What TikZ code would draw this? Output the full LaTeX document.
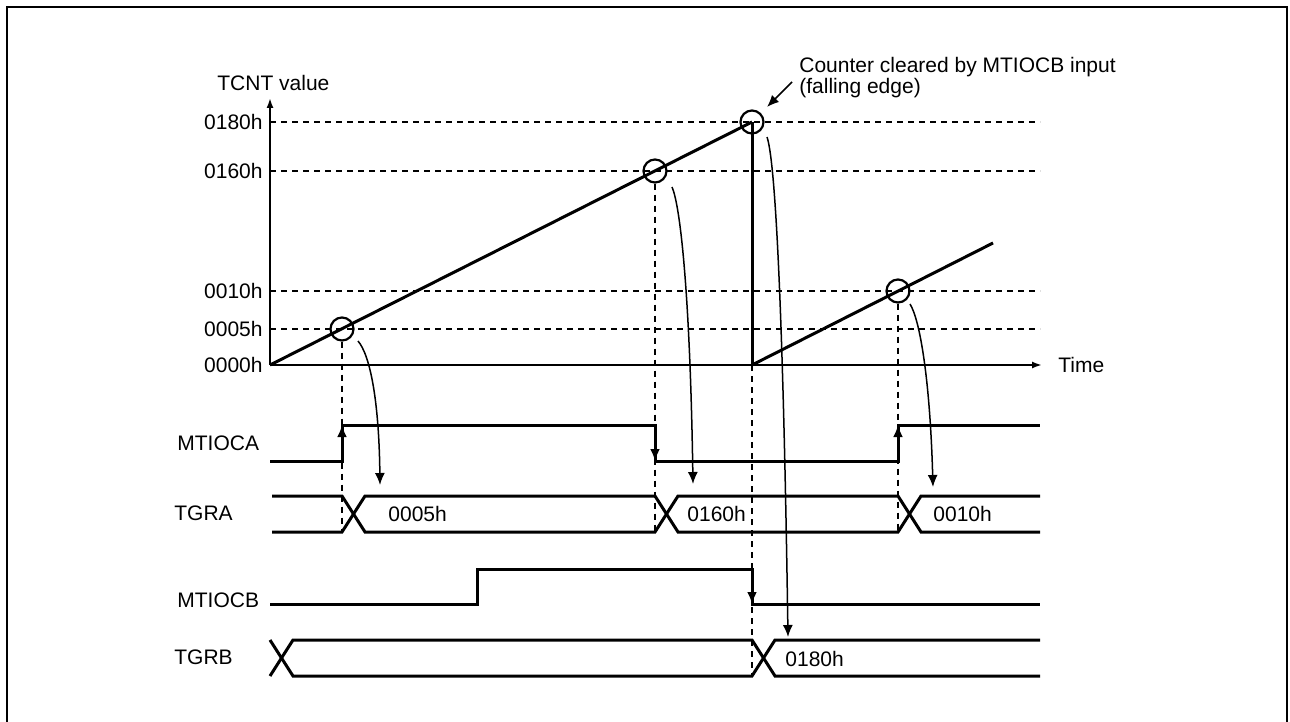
\documentclass[tikz,border=0pt]{standalone}
\usepackage{fontspec}
\setmainfont{Liberation Sans}
\usetikzlibrary{arrows.meta, positioning}

\begin{document}
\begin{tikzpicture}[
      x=0.5pt, y=-0.5pt,
      font=\fontsize{10.5}{12.5}\selectfont,
      >={Latex[length=6pt,width=5pt]},
      sig/.style={inner sep=0pt, anchor=west},
      level/.style={inner sep=0pt, anchor=east},
      wave/.style={line width=1.5pt},
      guide/.style={line width=0.8pt, dash pattern=on 3pt off 2.5pt},
      axis/.style={-{Latex[length=5pt,width=3.5pt]}, line width=0.9pt},
      hit/.style={circle, draw, line width=1.1pt, minimum size=11.5pt, inner sep=0pt},
      flow/.style={->, line width=0.75pt}
  ]
  \useasboundingbox (0,0) rectangle (1290,722);
  \draw[line width=1.4pt] (7,722) -- (7,7) -- (1287,7) -- (1287,722);

  % Axes
  \coordinate (o) at (270,365);
  \coordinate (ytop) at (270,98);
  \coordinate (xend) at (1042,365);
  \draw[axis] (o) -- (ytop);
  \draw[axis] (o) -- (xend);
  \node[sig] (ylab) at (217,83) {TCNT value};
  \node[sig, right=8pt of xend, inner sep=0pt] (xlab) {Time};
  \node[level] (l0000h) at (263,365) {0000h};
  \foreach \y/\t in {122/0180h, 171/0160h, 291/0010h, 329/0005h} {
    \node[level] (l\t) at (263,\y) {\t};
    \draw[guide] (270,\y) -- (1040,\y);
  }

  % Counter
  \draw[wave] (o) -- (752,122);
  \draw[wave] (752,122) -- (752,365);
  \draw[wave] (752,365) -- (993,243);
  \node[hit] (c1) at (342,329) {};
  \node[hit] (c2) at (655,171) {};
  \node[hit] (c3) at (752,122) {};
  \node[hit] (c4) at (898,291) {};
  \draw[guide] (c1.south) -- (342,532);
  \draw[guide] (c2.south) -- (655,532);
  \draw[guide] (752,365) -- (752,676);
  \draw[guide] (c4.south) -- (898,532);

  % Signals
  \node[sig] (mtioca) at (177,443) {MTIOCA};
  \node[sig] (tgra) at (174,513) {TGRA};
  \node[sig] (mtiocb) at (177,600) {MTIOCB};
  \node[sig] (tgrb) at (174,657) {TGRB};

  \draw[wave] (270,461) -- (342,461) -- (342,425) -- (655,425) -- (655,461) -- (898,461) -- (898,425) -- (1040,425);
  \draw[wave,->] (342,461) -- (342,425);
  \draw[wave,->] (655,425) -- (655,461);
  \draw[wave,->] (898,461) -- (898,425);

  \draw[wave] (272,496) -- (342,496) -- (365,532) -- (655,532) -- (678,496) -- (898,496) -- (921,532) -- (1040,532);
  \draw[wave] (272,532) -- (342,532) -- (365,496) -- (655,496) -- (678,532) -- (898,532) -- (921,496) -- (1040,496);
  \node[sig] (va1) at (388,514) {0005h};
  \node[sig] (va2) at (687,514) {0160h};
  \node[sig] (va3) at (933,514) {0010h};

  \draw[wave] (270,604) -- (477,604) -- (477,569) -- (752,569) -- (752,604) -- (1040,604);
  \draw[wave,->] (752,569) -- (752,604);

  \draw[wave] (270,640) -- (293,676) -- (752,676) -- (775,640) -- (1040,640);
  \draw[wave] (270,676) -- (293,640) -- (752,640) -- (775,676) -- (1040,676);
  \node[sig] (vb1) at (785,659) {0180h};

  % Arrows
  \coordinate (f1) at (358,341);
  \coordinate (f2) at (672,187);
  \coordinate (f3) at (767,137);
  \coordinate (f4) at (910,304);
  \coordinate (t1) at (380,485);
  \coordinate (t2) at (693,484);
  \coordinate (t3) at (788,637);
  \coordinate (t4) at (933,487);
  \draw[flow] (f1) .. controls (370,355) and (379,400) .. (t1);
  \draw[flow] (f2) .. controls (680,205) and (690,290) .. (t2);
  \draw[flow] (f3) .. controls (775,160) and (783,300) .. (t3);
  \draw[flow] (f4) .. controls (920,320) and (930,380) .. (t4);

  % Annotations
  \node[sig] (note) at (799,67) {Counter cleared by MTIOCB input};
  \node[sig] (note2) at (799,88) {(falling edge)};
  \coordinate (ns) at (792,82);
  \coordinate (ne) at (767,107);
  \draw[flow] (ns) -- (ne);

\end{tikzpicture}
\end{document}
